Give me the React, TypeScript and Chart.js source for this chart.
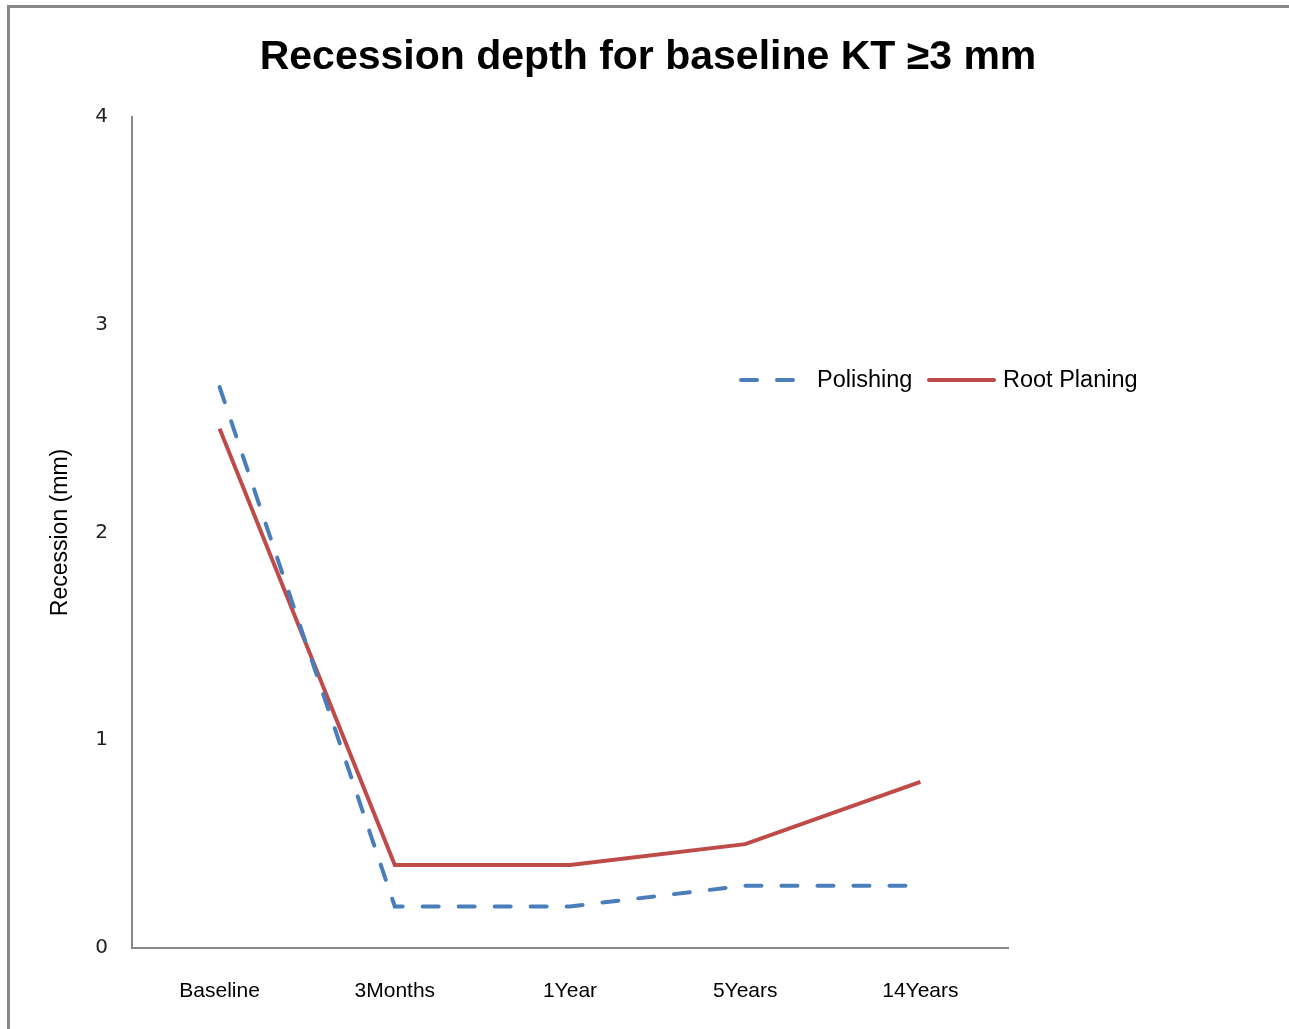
import React, { useEffect, useRef } from "react";
import { Chart, registerables } from "chart.js";

Chart.register(...registerables);

const categories = ["Baseline", "3Months", "1Year", "5Years", "14Years"];
const polishing = [2.7, 0.2, 0.2, 0.3, 0.3];
const rootPlaning = [2.5, 0.4, 0.4, 0.5, 0.8];
const yTicks = [0, 1, 2, 3, 4];
const titleText = "Recession depth for baseline KT \u22653 mm";
const yTitle = "Recession (mm)";

const W = 1289;
const H = 1029;
const FONT = "'Liberation Sans', Arial, sans-serif";

const framePlugin = {
  id: "frame",
  beforeDraw(chart: any) {
    const ctx = chart.ctx;
    ctx.save();
    ctx.fillStyle = "#ffffff";
    ctx.fillRect(0, 0, W, H);
    ctx.strokeStyle = "#878787";
    ctx.lineWidth = 3;
    ctx.beginPath();
    ctx.moveTo(8.5, H);
    ctx.lineTo(8.5, 6.5);
    ctx.lineTo(W, 6.5);
    ctx.stroke();
    ctx.restore();
  },
};

const titlePlugin = {
  id: "customTitle",
  afterDraw(chart: any) {
    const ctx = chart.ctx;
    ctx.save();
    ctx.fillStyle = "#000000";
    ctx.font = "bold 41px " + FONT;
    ctx.textAlign = "center";
    ctx.textBaseline = "middle";
    ctx.fillText(titleText, 648, 58);
    ctx.restore();
  },
};

const legendPlugin = {
  id: "customLegend",
  afterDraw(chart: any) {
    const ctx = chart.ctx;
    const y = 380;
    ctx.save();
    ctx.font = "23.5px " + FONT;
    ctx.textBaseline = "middle";
    ctx.fillStyle = "#000000";
    const items = [
      { ds: chart.data.datasets[0], x0: 741, x1: 794, tx: 817 },
      { ds: chart.data.datasets[1], x0: 929, x1: 994, tx: 1003 },
    ];
    for (const it of items) {
      ctx.save();
      ctx.strokeStyle = it.ds.borderColor;
      ctx.lineWidth = it.ds.borderWidth;
      ctx.lineCap = "round";
      ctx.setLineDash(it.ds.borderDash || []);
      ctx.beginPath();
      ctx.moveTo(it.x0, y);
      ctx.lineTo(it.x1, y);
      ctx.stroke();
      ctx.restore();
      ctx.fillText(it.ds.label, it.tx, y + 1);
    }
    ctx.restore();
  },
};

export default function App() {
  const ref = useRef<HTMLCanvasElement | null>(null);

  useEffect(() => {
    if (!ref.current) return;
    const chart = new Chart(ref.current, {
      type: "line",
      data: {
        labels: categories,
        datasets: [
          {
            label: "Polishing",
            data: polishing,
            borderColor: "#4A7EBB",
            backgroundColor: "#4A7EBB",
            borderWidth: 4,
            borderDash: [16, 20],
            borderCapStyle: "round",
            pointRadius: 0,
            tension: 0,
            fill: false,
          },
          {
            label: "Root Planing",
            data: rootPlaning,
            borderColor: "#BE4B48",
            backgroundColor: "#BE4B48",
            borderWidth: 4,
            pointRadius: 0,
            tension: 0,
            fill: false,
          },
        ],
      },
      options: {
        animation: false,
        responsive: false,
        maintainAspectRatio: false,
        layout: { padding: { left: 45, right: W - 1008, top: 117, bottom: 0 } },
        plugins: {
          legend: { display: false },
          title: { display: false },
          tooltip: { enabled: false },
        },
        scales: {
          x: {
            type: "category",
            offset: true,
            grid: { display: false, drawTicks: false },
            border: { display: true, color: "#878787", width: 2 },
            ticks: {
              color: "#000000",
              padding: 31,
              font: { size: 21, family: FONT },
              maxRotation: 0,
            },
            afterFit(scale: any) {
              scale.height = H - 948;
            },
          },
          y: {
            min: 0,
            max: 4,
            afterBuildTicks(scale: any) {
              scale.ticks = yTicks.map((v) => ({ value: v }));
            },
            grid: { display: false, drawTicks: false },
            border: { display: true, color: "#878787", width: 2 },
            ticks: {
              color: "#222222",
              padding: 24,
              font: { size: 20, family: "'DejaVu Sans', sans-serif" },
            },
            title: {
              display: true,
              text: yTitle,
              color: "#000000",
              padding: 2,
              font: { size: 23, family: FONT },
            },
            afterFit(scale: any) {
              scale.width = 132 - 45;
            },
          },
        },
      },
      plugins: [framePlugin, titlePlugin, legendPlugin],
    } as any);
    return () => chart.destroy();
  }, []);

  return (
    <div style={{ position: "absolute", left: 0, top: 0, width: W, height: H }}>
      <canvas ref={ref} width={W} height={H} style={{ width: W, height: H, display: "block" }} />
    </div>
  );
}
